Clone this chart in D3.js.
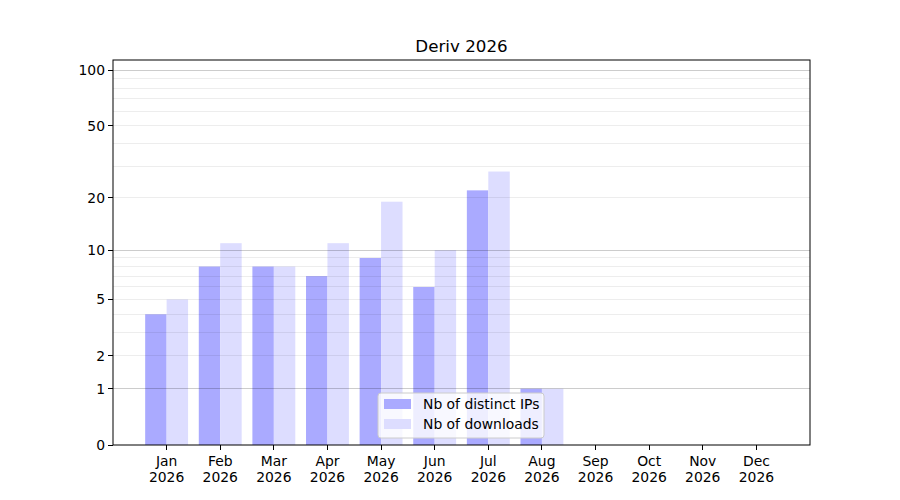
<!DOCTYPE html>
<html>
<head>
<meta charset="utf-8">
<script src="https://cdn.jsdelivr.net/npm/d3@7"></script>
<style>
  body { margin: 0; background: #fff; }
  svg text { font-family: "DejaVu Sans", sans-serif; fill: #000; }
  line { shape-rendering: crispEdges; }
</style>
</head>
<body>
<div id="chart"></div>
<script>
var svgWidth = 900;
var svgHeight = 500;

var margin = { top: 60, right: 90, bottom: 55, left: 113 };
var width = svgWidth - margin.left - margin.right;
var height = svgHeight - margin.top - margin.bottom;

// data
var months = ["Jan", "Feb", "Mar", "Apr", "May", "Jun", "Jul", "Aug", "Sep", "Oct", "Nov", "Dec"];
var year = "2026";
var distinctIPs = [4, 8, 8, 7, 9, 6, 22, 1, 0, 0, 0, 0];
var downloads = [5, 11, 8, 11, 19, 10, 28, 1, 0, 0, 0, 0];
var yTicks = [0, 1, 2, 5, 10, 20, 50, 100];
var majorGrid = [1, 10, 100];
var minorGrid = [2, 3, 4, 5, 6, 7, 8, 9, 20, 30, 40, 50, 60, 70, 80, 90];

var svg = d3.select("#chart").append("svg")
  .attr("width", svgWidth)
  .attr("height", svgHeight);

var chartGroup = svg.append("g")
  .attr("transform", `translate(${margin.left}, ${margin.top})`);

// x: month index, one slot either side
var xScale = d3.scaleLinear()
  .domain([-1, 12])
  .range([0, width]);

// y behaves like log10(1 + v)
var yLog = d3.scaleLinear()
  .domain([0, Math.log10(1 + 113.5)])
  .range([height, 0]);
var yScale = v => yLog(Math.log10(1 + v));

var barW = xScale(0.4) - xScale(0);

// bars
chartGroup.selectAll(".ip")
  .data(distinctIPs)
  .enter().append("rect")
  .attr("x", (d, i) => xScale(i) - barW)
  .attr("y", d => yScale(d))
  .attr("width", barW)
  .attr("height", d => height - yScale(d))
  .attr("fill", "#aaaaff");

chartGroup.selectAll(".dl")
  .data(downloads)
  .enter().append("rect")
  .attr("x", (d, i) => xScale(i))
  .attr("y", d => yScale(d))
  .attr("width", barW)
  .attr("height", d => height - yScale(d))
  .attr("fill", "#ddddff");

// grid lines over the bars
chartGroup.selectAll(".minor")
  .data(minorGrid)
  .enter().append("line")
  .attr("x1", 0).attr("x2", width)
  .attr("y1", d => yScale(d)).attr("y2", d => yScale(d))
  .attr("stroke", "#000").attr("stroke-opacity", 0.07)
  .attr("stroke-width", 1);

chartGroup.selectAll(".major")
  .data(majorGrid)
  .enter().append("line")
  .attr("x1", 0).attr("x2", width)
  .attr("y1", d => yScale(d)).attr("y2", d => yScale(d))
  .attr("stroke", "#000").attr("stroke-opacity", 0.2)
  .attr("stroke-width", 1);

// axes
var yAxis = chartGroup.append("g");
yAxis.selectAll("g")
  .data(yTicks)
  .enter().append("g")
  .attr("transform", d => `translate(0, ${yScale(d)})`)
  .each(function(d) {
    var g = d3.select(this);
    g.append("line").attr("x1", -5).attr("x2", 0).attr("stroke", "#000");
    g.append("text").attr("x", -8).attr("dy", "0.35em")
      .attr("text-anchor", "end").style("font-size", "13.9px").text(d);
  });

var xAxis = chartGroup.append("g").attr("transform", `translate(0, ${height})`);
xAxis.selectAll("g")
  .data(months)
  .enter().append("g")
  .attr("transform", (d, i) => `translate(${xScale(i)}, 0)`)
  .each(function(d) {
    var g = d3.select(this);
    g.append("line").attr("y1", 0).attr("y2", 5).attr("stroke", "#000");
    g.append("text").attr("y", 21).attr("text-anchor", "middle")
      .style("font-size", "13.9px").text(d);
    g.append("text").attr("y", 37).attr("text-anchor", "middle")
      .style("font-size", "13.9px").text(year);
  });

// frame
chartGroup.append("rect")
  .attr("width", width).attr("height", height)
  .attr("fill", "none").attr("stroke", "#000").attr("stroke-width", 1);

// title
svg.append("text")
  .attr("x", margin.left + width / 2)
  .attr("y", 52)
  .attr("text-anchor", "middle")
  .style("font-size", "16.7px")
  .text("Deriv 2026");

// legend
var legend = chartGroup.append("g")
  .attr("transform", `translate(${265}, ${333})`);
legend.append("rect")
  .attr("width", 166).attr("height", 45)
  .attr("rx", 3)
  .attr("fill", "#fff").attr("fill-opacity", 0.8)
  .attr("stroke", "#ccc");
var items = [["Nb of distinct IPs", "#aaaaff"], ["Nb of downloads", "#ddddff"]];
items.forEach(function(it, i) {
  legend.append("rect")
    .attr("x", 6).attr("y", 6 + i * 20)
    .attr("width", 27).attr("height", 10)
    .attr("fill", it[1]);
  legend.append("text")
    .attr("x", 45).attr("y", 16 + i * 20)
    .style("font-size", "13.9px")
    .text(it[0]);
});
</script>
</body>
</html>
